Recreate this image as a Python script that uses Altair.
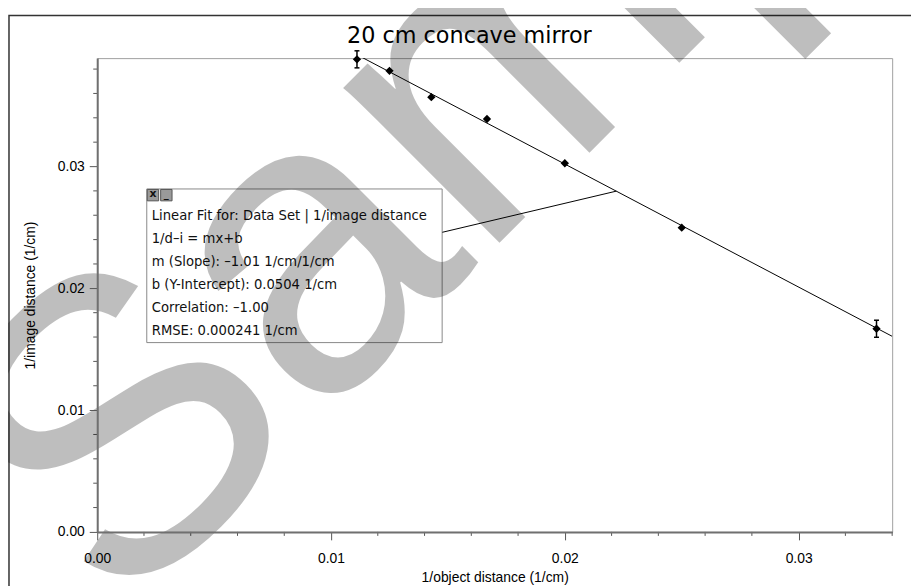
import altair as alt
import pandas as pd

# ---------------- values ----------------
inv_object = [0.01111, 0.0125, 0.01429, 0.01667, 0.0200, 0.0250, 0.03333]
inv_image = [0.0388, 0.03786, 0.03569, 0.0339, 0.03027, 0.02498, 0.01668]
image_err = [0.0007, 0.0, 0.0, 0.0, 0.0, 0.0, 0.0007]

x_major = [0.00, 0.01, 0.02, 0.03]
y_major = [0.00, 0.01, 0.02, 0.03]
x_minor = [0.002, 0.004, 0.006, 0.008, 0.012, 0.014, 0.016, 0.018,
           0.022, 0.024, 0.026, 0.028, 0.032, 0.034]
y_minor = [0.002, 0.004, 0.006, 0.008, 0.012, 0.014, 0.016, 0.018,
           0.022, 0.024, 0.026, 0.028, 0.032, 0.034, 0.036, 0.038]
x_domain = [0.0, 0.034]
y_domain = [0.0, 0.0389]

fit_slope = -1.01
fit_intercept = 0.0504
fit_text = [
    "Linear Fit for: Data Set | 1/image distance",
    "1/d\u2013i = mx+b",
    "m (Slope): \u20131.01 1/cm/1/cm",
    "b (Y-Intercept): 0.0504 1/cm",
    "Correlation: \u20131.00",
    "RMSE: 0.000241 1/cm",
]
leader_start = [0.01476, 0.0246]
leader_end_x = 0.0222

chart_title = "20 cm concave mirror"
x_title = "1/object distance (1/cm)"
y_title = "1/image distance (1/cm)"
watermark = "Sample"

# ---------------- chart ----------------
W, H = 802, 478
xs = alt.Scale(domain=x_domain, nice=False, zero=False)
ys = alt.Scale(domain=y_domain, nice=False, zero=False)

pts = pd.DataFrame({"x": inv_object, "y": inv_image, "err": image_err})
pts["lo"] = pts["y"] - pts["err"]
pts["hi"] = pts["y"] + pts["err"]
one = pd.DataFrame({"k": [0]})

x_axis = alt.Axis(values=x_major, format=".2f", title=x_title, grid=False,
                  tickSize=8, tickColor="#555", tickWidth=1,
                  domainColor="#707070", domainWidth=2,
                  labelFont="Liberation Sans", labelFontSize=14, labelColor="#000",
                  labelPadding=12, labelFlush=False, labelOverlap=False,
                  titleFont="Liberation Sans", titleFontSize=14, titleFontWeight="normal",
                  titleColor="#000", titleY=46, titleBaseline="middle", zindex=1)
y_axis = alt.Axis(values=y_major, format=".2f", title=y_title, grid=False,
                  tickSize=8, tickColor="#555", tickWidth=1,
                  domainColor="#707070", domainWidth=2,
                  labelFont="Liberation Sans", labelFontSize=14, labelColor="#000",
                  labelPadding=5, labelFlush=False, labelOverlap=False,
                  titleFont="Liberation Sans", titleFontSize=14, titleFontWeight="normal",
                  titleColor="#000", titleX=-67.5, titleY=H / 2, titleAngle=270,
                  titleBaseline="middle", titleAlign="center", zindex=1)


def X(field):
    return alt.X(field, type="quantitative", scale=xs, axis=x_axis, title=x_title)


def Y(field):
    return alt.Y(field, type="quantitative", scale=ys, axis=y_axis, title=y_title)


frame = alt.Chart(one).mark_rect(fill="white", fillOpacity=0, stroke="#333", strokeWidth=1.5).encode(
    x=alt.value(-89), x2=alt.value(1000), y=alt.value(-43), y2=alt.value(700))

points = alt.Chart(pts).mark_point(shape="diamond", filled=True, size=70, color="black", opacity=1).encode(
    x=X("x"), y=Y("y"))

err_df = pts[pts["err"] > 0]
err_rule = alt.Chart(err_df).mark_rule(color="black", strokeWidth=1.5).encode(
    x=X("x"), y=Y("lo"), y2="hi:Q")
err_lo = alt.Chart(err_df).mark_tick(orient="horizontal", size=5, thickness=1.5, color="black", opacity=1).encode(
    x=X("x"), y=Y("lo"))
err_hi = alt.Chart(err_df).mark_tick(orient="horizontal", size=5, thickness=1.5, color="black", opacity=1).encode(
    x=X("x"), y=Y("hi"))

fit_df = pd.DataFrame({"x": x_domain})
fit = alt.Chart(fit_df).mark_line(color="black", strokeWidth=1, clip=True).transform_calculate(
    fy=f"{fit_slope} * datum.x + {fit_intercept}").encode(x=X("x"), y=Y("fy"))

lead_df = pd.DataFrame({"x1": [leader_start[0]], "y1": [leader_start[1]],
                        "x2": [leader_end_x], "y2": [fit_slope * leader_end_x + fit_intercept]})
leader = alt.Chart(lead_df).mark_rule(color="black", strokeWidth=1).encode(
    x=X("x1"), x2="x2:Q", y=Y("y1"), y2="y2:Q")

box = alt.Chart(one).mark_rect(fill="white", stroke="#888", strokeWidth=1).encode(
    x=alt.value(50), x2=alt.value(348), y=alt.value(132), y2=alt.value(287))
icon1 = alt.Chart(one).mark_rect(fill="#9a9a9a", stroke="#555", strokeWidth=1).encode(
    x=alt.value(50.5), x2=alt.value(62), y=alt.value(132.5), y2=alt.value(144))
icon2 = alt.Chart(one).mark_rect(fill="#9a9a9a", stroke="#555", strokeWidth=1).encode(
    x=alt.value(64), x2=alt.value(75.5), y=alt.value(132.5), y2=alt.value(144))
icon1_t = alt.Chart(one).mark_text(text="x", font="DejaVu Sans", fontSize=11, fontWeight="bold",
                                   color="#111", align="center", baseline="middle").encode(
    x=alt.value(56.2), y=alt.value(137.5))
icon2_t = alt.Chart(one).mark_text(text="_", font="DejaVu Sans", fontSize=10, fontWeight="bold",
                                   color="#111", align="center", baseline="alphabetic").encode(
    x=alt.value(69.7), y=alt.value(140))

txt_df = pd.DataFrame({"t": ["\n".join(fit_text)]})
box_text = alt.Chart(txt_df).mark_text(align="left", baseline="alphabetic", font="DejaVu Sans",
                                       fontSize=13.3, lineHeight=23.2, lineBreak="\n", color="#111").encode(
    x=alt.value(55), y=alt.value(163), text="t:N")

title = alt.Chart(one).mark_text(text=chart_title, font="DejaVu Sans", fontSize=22.5, color="#000",
                                 align="center", baseline="alphabetic").encode(
    x=alt.value(375.5), y=alt.value(-15.5))

xm_df = pd.DataFrame({"v": x_minor})
x_minor_ticks = alt.Chart(xm_df).mark_rule(color="#555", strokeWidth=1).encode(
    x=X("v"), y=alt.value(H), y2=alt.value(H + 4))
ym_df = pd.DataFrame({"v": y_minor})
y_minor_ticks = alt.Chart(ym_df).mark_rule(color="#555", strokeWidth=1).encode(
    y=Y("v"), x=alt.value(-4), x2=alt.value(0))

wm = alt.Chart(one).mark_text(text=watermark, font="Liberation Sans", fontSize=420, color="black",
                              opacity=0.25, angle=315, align="left", baseline="alphabetic").encode(
    x=alt.value(22), y=alt.value(570))

chart = alt.layer(
    points, frame, box, icon1, icon2, icon1_t, icon2_t, fit, leader, err_rule, err_lo, err_hi,
    box_text, title, x_minor_ticks, y_minor_ticks, wm
).properties(
    width=W, height=H,
    padding={"left": 90, "top": 48, "right": 19, "bottom": 52},
    autosize=alt.AutoSizeParams(type="none"),
    background="white",
).configure_view(stroke="#a0a0a0", strokeWidth=1)

chart.save("out.html", embed_options={"renderer": "svg", "actions": False})
